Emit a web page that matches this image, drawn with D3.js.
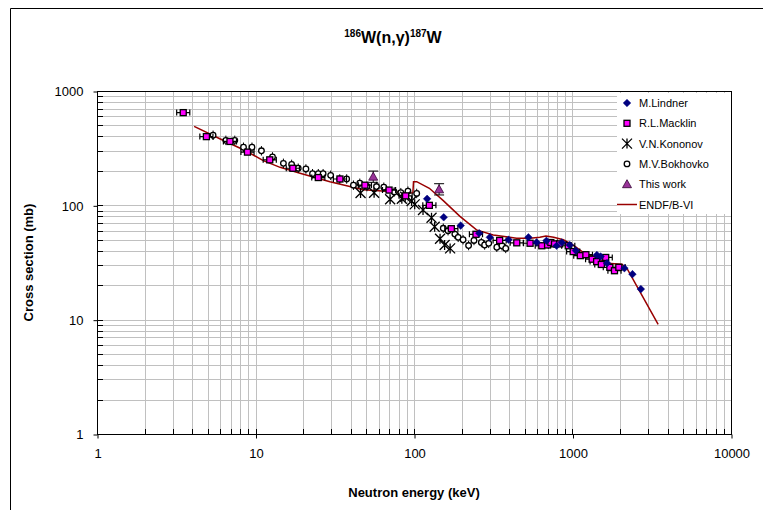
<!DOCTYPE html>
<html><head><meta charset="utf-8">
<script src="https://cdn.jsdelivr.net/npm/d3@7"></script>
<style>body{margin:0;background:#fff}svg{display:block;font-family:"Liberation Sans",Arial,sans-serif}</style>
</head><body><svg id="c" width="763" height="510"></svg>
<script>
// ---- data ----
const xTickValues = [1, 10, 100, 1000, 10000];
const xTickLabels = ["1", "10", "100", "1000", "10000"];
const yTickValues = [1, 10, 100, 1000];
const yTickLabels = ["1", "10", "100", "1000"];

// [energy keV, cross section mb]
const lindner = [[121,114],[154,78.6],[197,66.5],[258,57],[301,52.5],[395,50],[527,52.5],[594,47.5],[685,49],[794,44.3],[857,47.3],[960,45],[1050,40.2],[1425,36.8],[1505,35.7],[1652,31.2],[2126,28.2],[2389,25.0],[2700,18.5]];
const macklin = [[3.5,647],[4.9,399],[6.9,362],[8.9,292],[12.3,250],[17.2,211],[24.9,175],[34.1,170],[49,150],[69.6,136],[88.5,121],[125,100],[172,62.5],[246,55.8],[347,49.3],[445,47],[540,46.6],[640,44.3],[696,45],[730,47.3],[770,46],[830,46],[940,44.3],[1010,39.4],[1120,36.3],[1215,37],[1330,33.8],[1420,32.2],[1520,30.4],[1620,35],[1720,28.7],[1840,26.8],[1960,28.7]];
const kononov = [[46,128],[56,129],[70.7,113],[83.8,114],[88,119],[96.6,109],[101,102],[114,91],[129,78],[135,65],[146,51],[156,45],[169,42]];
const bokhovko = [[5.4,410],[6.5,370],[7.4,370],[8.4,322],[9.5,322],[10.9,300],[12.8,265],[15.0,233],[16.9,228],[18.6,211],[20.8,208],[22.9,189],[24.9,189],[26.7,189],[29.8,183],[34.0,170],[37.6,170],[41.5,150],[45.5,156],[50.5,146],[58,146],[64.5,144],[75,131],[82.6,129],[91.6,133],[104,127],[153,63],[164,60],[181,56],[190,52.5],[204,50],[221,44.5],[239,49.3],[266,47.3],[279,45],[296,46.5],[333,43],[359,44.3],[379,42]];
const thisWork = [[55.3,178],[144,138]];
const endf = [[4.1,490],[6.0,380],[8.8,297],[11.2,246],[14.3,215],[19.1,191],[29.5,161],[47.9,137],[70.6,132],[91.9,128],[98.4,129],[99.3,161],[104,161],[125,141],[153,110],[195,80],[248,61],[316,55],[444,51.5],[540,51.5],[622,52.5],[680,54],[761,52.5],[875,50],[1005,45],[1150,39.3],[1360,35.7],[1650,31.2],[2050,30.5],[2220,27.6],[2700,17.0],[3470,9.1]];

const legendNames = ["M.Lindner","R.L.Macklin","V.N.Kononov","M.V.Bokhovko","This work","ENDF/B-VI"];

// ---- layout ----
const svg = d3.select("#c");
const L = 97, R = 731, T = 91, B = 434;
const x = d3.scaleLog().domain([1, 10000]).range([L, R]);
const y = d3.scaleLog().domain([1, 1000]).range([B, T]);

// outer chart border (top & left visible)
svg.append("path").attr("d", "M10.5,510 V8.5 H763").attr("fill","none").attr("stroke","#000").attr("stroke-width",1);

// gridlines
const g = svg.append("g");
const xAll = x.ticks(40).filter(v => v >= 1 && v <= 10000);
const yAll = y.ticks(40).filter(v => v >= 1 && v <= 1000);
g.selectAll(".gx").data(xAll).enter().append("line")
  .attr("x1", d => Math.round(x(d)) + 0.5).attr("x2", d => Math.round(x(d)) + 0.5)
  .attr("y1", T).attr("y2", B).attr("stroke", "#c0c0c0");
g.selectAll(".gy").data(yAll).enter().append("line")
  .attr("y1", d => Math.round(y(d)) + 0.5).attr("y2", d => Math.round(y(d)) + 0.5)
  .attr("x1", L).attr("x2", R).attr("stroke", "#c0c0c0");

// plot border
svg.append("rect").attr("x", L + 0.5).attr("y", T + 0.5).attr("width", R - L).attr("height", B - T)
  .attr("fill", "none").attr("stroke", "#000");

// axes
const xAxis = d3.axisBottom(x).tickValues(xTickValues).tickFormat((d, i) => xTickLabels[i]).tickSize(4).tickPadding(10);
const gx = svg.append("g").attr("transform", `translate(0.5,${B + 0.5})`).call(xAxis);
const yAxis = d3.axisLeft(y).tickValues(yTickValues).tickFormat((d, i) => yTickLabels[i]).tickSize(4).tickPadding(10);
const gy = svg.append("g").attr("transform", `translate(${L + 0.5},0.5)`).call(yAxis);
[gx, gy].forEach(a => {
  a.select(".domain").remove();
  a.selectAll("text").attr("font-size", 13).attr("fill", "#000").attr("font-family", "Liberation Sans, Arial, sans-serif");
  a.selectAll("line").attr("stroke", "#000");
});
// minor inward ticks
svg.append("g").selectAll("line").data(xAll).enter().append("line")
  .attr("x1", d => Math.round(x(d)) + 0.5).attr("x2", d => Math.round(x(d)) + 0.5)
  .attr("y1", B).attr("y2", B - 5).attr("stroke", "#000");
svg.append("g").selectAll("line").data(yAll).enter().append("line")
  .attr("y1", d => Math.round(y(d)) + 0.5).attr("y2", d => Math.round(y(d)) + 0.5)
  .attr("x1", L).attr("x2", L + 6).attr("stroke", "#000");

// clip
svg.append("clipPath").attr("id", "clip").append("rect").attr("x", L).attr("y", T).attr("width", R - L).attr("height", B - T);
const plot = svg.append("g").attr("clip-path", "url(#clip)");

// ENDF line
plot.append("path").datum(endf)
  .attr("d", d3.line().x(d => x(d[0])).y(d => y(d[1])))
  .attr("fill", "none").attr("stroke", "#990000").attr("stroke-width", 1.5);

// marker helpers
function diamond(sel, cx, cy) {
  sel.append("path").attr("d", `M${cx},${cy-3.8}L${cx+3.8},${cy}L${cx},${cy+3.8}L${cx-3.8},${cy}Z`)
    .attr("fill", "#000080").attr("stroke", "#000080").attr("stroke-width", 0.5);
}
function square(sel, cx, cy) {
  sel.append("rect").attr("x", cx - 3).attr("y", cy - 3).attr("width", 6).attr("height", 6)
    .attr("fill", "#ff00ff").attr("stroke", "#000").attr("stroke-width", 1.3);
}
function star(sel, cx, cy) {
  const r = 5;
  sel.append("path").attr("d",
    `M${cx-r},${cy-r}L${cx+r},${cy+r}M${cx-r},${cy+r}L${cx+r},${cy-r}M${cx},${cy-r}L${cx},${cy+r}`)
    .attr("stroke", "#000").attr("stroke-width", 1.3).attr("fill", "none");
}
function circle(sel, cx, cy) {
  sel.append("circle").attr("cx", cx).attr("cy", cy).attr("r", 2.8)
    .attr("fill", "#fff").attr("stroke", "#000").attr("stroke-width", 1.3);
}
function tri(sel, cx, cy) {
  sel.append("path").attr("d", `M${cx},${cy-4.5}L${cx+4.5},${cy+3.5}L${cx-4.5},${cy+3.5}Z`)
    .attr("fill", "#993399").attr("stroke", "#330033").attr("stroke-width", 0.8);
}

// Bokhovko with vertical error bars
const gb = plot.append("g");
bokhovko.forEach(d => {
  gb.append("line").attr("x1", x(d[0])).attr("x2", x(d[0])).attr("y1", y(d[1] * 1.1)).attr("y2", y(d[1] / 1.1))
    .attr("stroke", "#000").attr("stroke-width", 1);
});
bokhovko.forEach(d => circle(gb, x(d[0]), y(d[1])));

// Kononov
const gk = plot.append("g");
kononov.forEach(d => star(gk, x(d[0]), y(d[1])));

// Macklin with horizontal error bars
const gm = plot.append("g");
macklin.forEach(d => {
  const x1 = x(d[0] / 1.1), x2 = x(d[0] * 1.1), cy = y(d[1]);
  gm.append("path").attr("d", `M${x1},${cy}H${x2}M${x1},${cy-3}V${cy+3}M${x2},${cy-3}V${cy+3}`)
    .attr("stroke", "#000").attr("stroke-width", 1.2).attr("fill", "none");
});
macklin.forEach(d => square(gm, x(d[0]), y(d[1])));

// Lindner
const gl = plot.append("g");
lindner.forEach(d => diamond(gl, x(d[0]), y(d[1])));

// This work with error bars
const gt = plot.append("g");
thisWork.forEach(d => {
  const cx = x(d[0]), y1 = y(d[1] * 1.12), y2 = y(d[1] / 1.12);
  gt.append("path").attr("d", `M${cx},${y1}V${y2}M${cx-5},${y1}H${cx+5}M${cx-5},${y2}H${cx+5}`)
    .attr("stroke", "#000").attr("stroke-width", 1).attr("fill", "none");
  tri(gt, cx, y(d[1]));
});

// legend
const lg = svg.append("g");
lg.append("rect").attr("x", 617).attr("y", 93).attr("width", R - 617).attr("height", 121).attr("fill", "#fff");
const rowY = i => 103 + i * 20.3;
const mx = 627;
diamond(lg, mx, rowY(0));
square(lg, mx, rowY(1));
star(lg, mx, rowY(2));
circle(lg, mx, rowY(3));
tri(lg, mx, rowY(4));
lg.append("line").attr("x1", 617).attr("x2", 637).attr("y1", rowY(5)).attr("y2", rowY(5)).attr("stroke", "#990000").attr("stroke-width", 1.5);
legendNames.forEach((n, i) => {
  lg.append("text").attr("x", 639).attr("y", rowY(i) + 4).attr("font-size", 11).text(n);
});
// plot border redraw on right/top over legend
svg.append("path").attr("d", `M${L+0.5},${T+0.5}H${R+0.5}V${B+0.5}`).attr("fill","none").attr("stroke","#000");

// title
const title = svg.append("text").attr("x", 393).attr("y", 43).attr("text-anchor", "middle")
  .attr("font-weight", "bold").attr("font-size", 16);
title.append("tspan").attr("font-size", 10).attr("dy", -6).text("186");
title.append("tspan").attr("dy", 6).text("W(n,γ)");
title.append("tspan").attr("font-size", 10).attr("dy", -6).text("187");
title.append("tspan").attr("dy", 6).text("W");

// axis titles
svg.append("text").attr("x", (L + R) / 2).attr("y", 497).attr("text-anchor", "middle")
  .attr("font-weight", "bold").attr("font-size", 13).text("Neutron energy (keV)");
svg.append("text").attr("transform", `translate(33,${(T + B) / 2}) rotate(-90)`).attr("text-anchor", "middle")
  .attr("font-weight", "bold").attr("font-size", 13).text("Cross section (mb)");
</script></body></html>
